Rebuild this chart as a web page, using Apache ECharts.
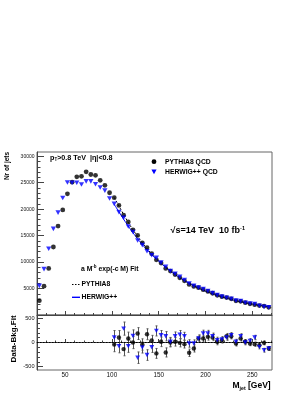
<!DOCTYPE html>
<html><head><meta charset="utf-8">
<script src="https://cdn.jsdelivr.net/npm/echarts@6/dist/echarts.min.js"></script>
<style>html,body{margin:0;padding:0;background:#fff;}#c{width:306px;height:396px;}</style>
</head><body><div id="c"></div>
<script>
// ---------------- data ----------------
const massBins = [22.5,27.5,32.5,37.5,42.5,47.5,52.5,57.5,62.5,67.5,72.5,77.5,82.5,87.5,92.5,97.5,
  102.5,107.5,112.5,117.5,122.5,127.5,132.5,137.5,142.5,147.5,152.5,157.5,162.5,167.5,172.5,177.5,
  182.5,187.5,192.5,197.5,202.5,207.5,212.5,217.5,222.5,227.5,232.5,237.5,242.5,247.5,252.5,257.5,262.5,267.5];
const pythiaCounts = [2700,5450,8800,12850,16800,19850,22900,25100,26100,26200,27050,26550,26400,25450,24500,23100,
  22160,20700,18860,17580,16100,15040,13610,12720,11590,10420,9810,8810,8300,7650,7030,6460,5770,5400,5170,4780,
  4460,4110,3710,3470,3290,3050,2680,2580,2320,2120,1950,1780,1690,1450];
const herwigCounts = [5500,8670,12520,16280,19350,22100,25050,25000,25000,24650,25250,25250,24700,24100,23500,22000,
  21000,19430,18390,16730,15690,14090,13200,12040,11300,10790,9900,9130,8310,7770,7200,6620,5960,5500,5170,4890,
  4530,4140,3750,3480,3260,3070,2710,2630,2310,2170,2080,1740,1540,1450];
const fitMass = [102.5,107.5,112.5,117.5,122.5,127.5,132.5,137.5,142.5,147.5,152.5,157.5,162.5,167.5,172.5,177.5,
  182.5,187.5,192.5,197.5,202.5,207.5,212.5,217.5,222.5,227.5,232.5,237.5,242.5,247.5,252.5,257.5,262.5,267.5];
const pythiaFit = [22200,20600,19000,17500,16100,14850,13650,12550,11550,10650,9800,9020,8300,7640,7040,6490,
  5980,5520,5090,4700,4340,4010,3700,3420,3160,2920,2700,2500,2310,2140,1980,1830,1700,1570];
const herwigFit = [20900,19500,18100,16800,15550,14400,13300,12300,11400,10550,9750,9000,8300,7640,7040,6490,
  5980,5520,5090,4700,4340,4010,3700,3420,3160,2920,2700,2500,2310,2140,1980,1830,1700,1570];
const pythiaResid = [-41,103,-137,82,0,185,-41,171,40,-226,14,-206,0,14,-7,-34,-213,-123,82,82,
  117,103,14,48,130,130,-20,82,14,-20,-34,-55,-7,-124];
const herwigResid = [103,-75,288,-75,137,-315,-103,-260,-100,240,150,130,14,130,164,130,-20,-20,82,185,
  185,130,48,62,103,150,14,130,0,34,103,-90,-160,-124];
const pythiaErr = [150,145,138,133,127,123,117,113,108,102,99,94,91,88,84,80,76,74,72,69,67,64,61,59,57,55,52,51,48,46,44,42,41,38];
const herwigErr = [145,139,136,129,125,119,115,110,106,104,99,96,91,88,85,81,77,74,72,70,67,64,61,59,57,55,52,51,48,47,46,42,39,38];

const xMajorTicks = [50,100,150,200,250];
const xMinorTicks = [30,40,60,70,80,90,110,120,130,140,160,170,180,190,210,220,230,240,260,270];
const yTopMajor = [5000,10000,15000,20000,25000,30000];
const yTopMinor = [1000,2000,3000,4000,6000,7000,8000,9000,11000,12000,13000,14000,16000,17000,18000,19000,
  21000,22000,23000,24000,26000,27000,28000,29000];
const yBotMajor = [-500,0,500];
const yBotMinor = [-400,-300,-200,-100,100,200,300,400];

// ---------------- chart ----------------
const FONT = '"Liberation Sans", Arial, Helvetica, sans-serif';
const AX = '#444';
const chart = echarts.init(document.getElementById('c'), null, {renderer:'canvas', width:306, height:396});
const plain = v => String(v);

function xAxisDef(grid, ticks, len, withLine, labels) {
  return {
    type:'value', gridIndex:grid, min:20, max:271, position:'bottom',
    splitLine:{show:false},
    axisLine:{show:withLine, lineStyle:{color:AX, width:1}},
    axisTick:{show:true, inside:true, length:len, customValues:ticks, lineStyle:{color:AX, width:1}},
    axisLabel: labels ? {show:true, customValues:labels, formatter:plain, fontSize:6.4, fontFamily:FONT, color:'#111', margin:2} : {show:false}
  };
}
function yAxisDef(grid, min, max, ticks, len, withLine, labels, fs) {
  return {
    type:'value', gridIndex:grid, min:min, max:max, position:'left',
    splitLine:{show:false},
    axisLine:{show:withLine, lineStyle:{color:AX, width:1}},
    axisTick:{show:true, inside:true, length:len, customValues:ticks, lineStyle:{color:AX, width:1}},
    axisLabel: labels ? {show:true, customValues:labels, formatter:plain, fontSize:fs, fontFamily:FONT, color:'#111', margin:2.5} : {show:false}
  };
}

const ctx = document.createElement('canvas').getContext('2d');
function measure(t, s) { ctx.font = 'bold ' + s + 'px ' + FONT; return ctx.measureText(t).width; }
function textRun(x, y, pieces, color) {
  const out = []; let cx = x;
  pieces.forEach(p => {
    const [t, s, dy] = p;
    out.push({type:'text', x:cx, y:y + (dy||0), silent:true, z:100,
      style:{text:t, font:'bold ' + s + 'px ' + FONT, fill:color || '#000', verticalAlign:'middle', textVerticalAlign:'middle', align:'left'}});
    cx += measure(t, s);
  });
  return out;
}

function errRender(color) {
  return function(params, api) {
    const x = api.value(0), y = api.value(1), e = api.value(2);
    const lo = api.coord([x, y - e]), hi = api.coord([x, y + e]);
    const xc = Math.round(lo[0]) + 0.5;
    return {type:'group', children:[
      {type:'line', shape:{x1:xc, y1:lo[1], x2:xc, y2:hi[1]}, style:{stroke:color, lineWidth:1}},
      {type:'line', shape:{x1:xc-1, y1:lo[1], x2:xc+1, y2:lo[1]}, style:{stroke:color, lineWidth:1}},
      {type:'line', shape:{x1:xc-1, y1:hi[1], x2:xc+1, y2:hi[1]}, style:{stroke:color, lineWidth:1}}
    ]};
  };
}

const topP = massBins.map((m,i)=>[m, pythiaCounts[i]]);
const topH = massBins.map((m,i)=>[m, herwigCounts[i]]);
const fitP = fitMass.map((m,i)=>[m, pythiaFit[i]]);
const fitH = fitMass.map((m,i)=>[m, herwigFit[i]]);
const resP = fitMass.map((m,i)=>[m, pythiaResid[i], pythiaErr[i]]);
const resH = fitMass.map((m,i)=>[m, herwigResid[i], herwigErr[i]]);

const graphic = [].concat(
  textRun(50, 158, [['p',7.2,0],['T',4.5,2],['>0.8 TeV  |η|<0.8',7.2,0]]),
  textRun(165, 161.7, [['PYTHIA8 QCD',6.8,0]]),
  textRun(165, 171.7, [['HERWIG++ QCD',6.8,0]]),
  textRun(170.5, 231, [['√s=14 TeV  10 fb',9,0],['-1',5.5,-3]]),
  textRun(81, 269, [['a M',6.8,0],['-b',4.5,-2.2],[' exp(-c M) Fit',6.8,0]]),
  textRun(81.5, 284, [['PYTHIA8',6.8,0]]),
  textRun(81.5, 297.3, [['HERWIG++',6.8,0]]),
  textRun(232.5, 386, [['M',8.5,0],['jet',5.2,2.5],[' [GeV]',8.5,0]]),
  [
    {type:'circle', shape:{cx:154, cy:161.7, r:2.4}, style:{fill:'#000'}, z:100, silent:true},
    {type:'polygon', shape:{points:[[151.4,169.6],[156.6,169.6],[154,174.2]]}, style:{fill:'#0000ff'}, z:100, silent:true},
    {type:'line', shape:{x1:72, y1:284.5, x2:80, y2:284.5}, style:{stroke:'#000', lineWidth:1, lineDash:[1.5,1.5]}, z:100, silent:true},
    {type:'rect', shape:{x:72, y:296.6, width:8, height:1.4}, style:{fill:'#0000ff'}, z:100, silent:true},
    {type:'text', x:7, y:166, rotation:Math.PI/2, silent:true, z:100,
      style:{text:'Nr of jets', font:'bold 6.5px ' + FONT, fill:'#000', align:'center', verticalAlign:'middle', textAlign:'center', textVerticalAlign:'middle'}},
    {type:'text', x:14, y:339, rotation:Math.PI/2, silent:true, z:100,
      style:{text:'Data-Bkg.Fit', font:'bold 8px ' + FONT, fill:'#000', align:'center', verticalAlign:'middle', textAlign:'center', textVerticalAlign:'middle'}}
  ]
);

const option = {
  animation:false,
  backgroundColor:'#fff',
  grid:[
    {left:37, top:152, width:235, height:163, show:true, borderColor:'#666', borderWidth:1, backgroundColor:'transparent'},
    {left:37, top:315, width:235, height:55, show:true, borderColor:'#666', borderWidth:1, backgroundColor:'transparent'}
  ],
  xAxis:[
    xAxisDef(0, xMajorTicks, 4, true, null),
    xAxisDef(0, xMinorTicks, 2, false, null),
    xAxisDef(1, xMajorTicks, 3.5, true, xMajorTicks),
    xAxisDef(1, xMinorTicks, 2, false, null)
  ],
  yAxis:[
    yAxisDef(0, 0, 30800, yTopMajor, 7, true, yTopMajor, 5),
    yAxisDef(0, 0, 30800, yTopMinor, 3.5, false, null, 5),
    yAxisDef(1, -570, 570, yBotMajor, 6, true, yBotMajor, 5.6),
    yAxisDef(1, -570, 570, yBotMinor, 3, false, null, 5.6)
  ],
  series:[
    {type:'line', name:'PYTHIA8 fit', xAxisIndex:0, yAxisIndex:0, data:fitP, showSymbol:false, symbol:'none', smooth:true,
      lineStyle:{color:'#000', width:1, type:[2,2]}, z:2, silent:true},
    {type:'line', name:'HERWIG++ fit', xAxisIndex:0, yAxisIndex:0, data:fitH, showSymbol:false, symbol:'none', smooth:true,
      lineStyle:{color:'#0000ff', width:1}, z:2, silent:true},
    {type:'scatter', name:'PYTHIA8 QCD', xAxisIndex:0, yAxisIndex:0, data:topP, symbol:'circle', symbolSize:4.8,
      itemStyle:{color:'#000'}, z:3, silent:true},
    {type:'scatter', name:'HERWIG++ QCD', xAxisIndex:0, yAxisIndex:0, data:topH, symbol:'triangle', symbolRotate:180, symbolSize:[5.2,4.6],
      itemStyle:{color:'#0000ff'}, z:4, silent:true},
    {type:'custom', xAxisIndex:2, yAxisIndex:2, data:resP, renderItem:errRender('#555'), encode:{x:0, y:1}, z:3, silent:true},
    {type:'custom', xAxisIndex:2, yAxisIndex:2, data:resH, renderItem:errRender('#555'), encode:{x:0, y:1}, z:3, silent:true},
    {type:'scatter', xAxisIndex:2, yAxisIndex:2, data:resP.map(d=>[d[0], d[1]]), symbol:'circle', symbolSize:4.4,
      itemStyle:{color:'#000'}, z:4, silent:true,
      markLine:{silent:true, symbol:'none', label:{show:false}, animation:false,
        lineStyle:{color:'#000', width:1, type:[1.5,1.5]}, data:[{yAxis:0}]}},
    {type:'scatter', xAxisIndex:2, yAxisIndex:2, data:resH.map(d=>[d[0], d[1]]), symbol:'triangle', symbolRotate:180, symbolSize:[4.8,4.4],
      itemStyle:{color:'#0000ff'}, z:5, silent:true}
  ],
  graphic:graphic
};
chart.setOption(option);
</script>
</body></html>
